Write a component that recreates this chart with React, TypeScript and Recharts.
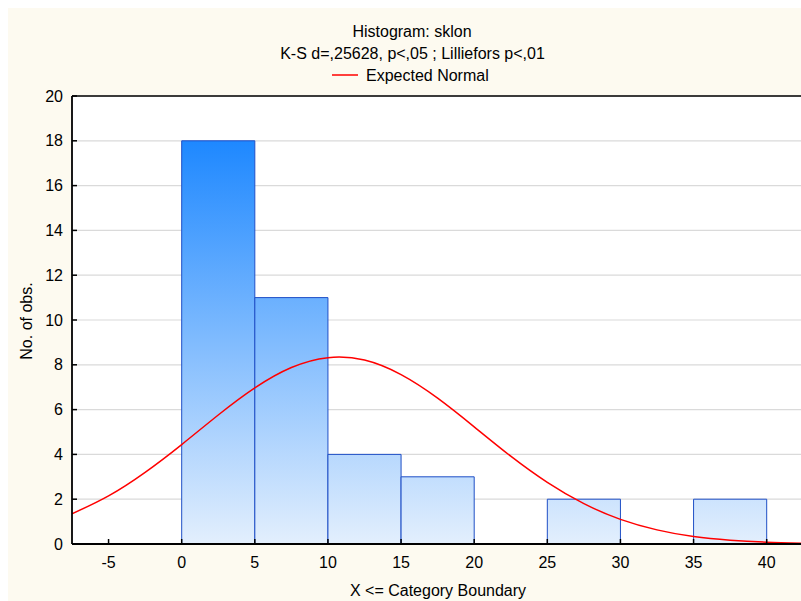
import React from 'react';
import { ComposedChart, Line, XAxis, YAxis, CartesianGrid, ReferenceArea } from 'recharts';

// Histogram bins (category boundaries) and observed counts
const binStarts = [0, 5, 10, 15, 20, 25, 30, 35];
const binEnds = [5, 10, 15, 20, 25, 30, 35, 40];
const binCounts = [18, 11, 4, 3, 0, 2, 0, 2];

// Expected normal curve
const curveX = [-7.5, -5, -2.5, 0, 2.5, 5, 7.5, 10, 12.5, 15, 17.5, 20, 22.5, 25, 27.5, 30, 32.5, 35, 37.5, 40, 42.5];
const curveY = [1.35, 2.15, 3.2, 4.44, 5.76, 6.97, 7.88, 8.32, 8.21, 7.56, 6.51, 5.23, 3.92, 2.75, 1.8, 1.1, 0.63, 0.33, 0.17, 0.08, 0.03];

const xTicks = [-5, 0, 5, 10, 15, 20, 25, 30, 35, 40];
const yTicks = [0, 2, 4, 6, 8, 10, 12, 14, 16, 18, 20];

const titleText = 'Histogram: sklon';
const subtitleText = 'K-S d=,25628, p<,05 ; Lilliefors p<,01';
const legendText = 'Expected Normal';
const xLabel = 'X <= Category Boundary';
const yLabel = 'No. of obs.';

const curveData = curveX.map((x, i) => ({ x, y: curveY[i] }));
const bins = binStarts
  .map((s, i) => ({ s, e: binEnds[i], c: binCounts[i] }))
  .filter((b) => b.c > 0);

const FONT = '"Liberation Sans", Arial, Helvetica, sans-serif';
const tickStyle = { fontSize: 16, fontFamily: FONT, fill: '#000' };

export default function App() {
  return (
    <>
      <style>{'body{margin:8px 0 0 8px;}'}</style>
      <div
        style={{
          position: 'relative',
          width: 793,
          height: 593,
          overflow: 'hidden',
          background: '#FDFAF0',
        }}
      >
        <ComposedChart
          width={800}
          height={593}
          data={curveData}
          margin={{ top: 78, right: 4.75, bottom: 27, left: 14 }}
        >
          <defs>
            <linearGradient id="barGrad" gradientUnits="userSpaceOnUse" x1="0" y1="133" x2="0" y2="536">
              <stop offset="0%" stopColor="#1E88FF" />
              <stop offset="100%" stopColor="#E3EFFD" />
            </linearGradient>
          </defs>
          <CartesianGrid vertical={false} stroke="#DADADA" strokeWidth={1.2} fill="#FFFFFF" fillOpacity={1} />
          <XAxis
            xAxisId="top"
            orientation="top"
            dataKey="x"
            type="number"
            domain={[-7.5, 42.5]}
            allowDataOverflow
            ticks={xTicks}
            height={10}
            tick={false}
            tickSize={-5}
            axisLine={{ stroke: '#000', strokeWidth: 1.5 }}
            tickLine={{ stroke: '#000', strokeWidth: 1.5 }}
          />
          <XAxis
            dataKey="x"
            type="number"
            domain={[-7.5, 42.5]}
            allowDataOverflow
            ticks={xTicks}
            height={30}
            tickSize={-5}
            tickMargin={18}
            tick={tickStyle}
            axisLine={{ stroke: '#000', strokeWidth: 1.8 }}
            tickLine={{ stroke: '#000', strokeWidth: 1.5 }}
            interval={0}
          />
          <YAxis
            type="number"
            domain={[0, 20]}
            ticks={yTicks}
            width={50}
            tickSize={-5}
            tickMargin={14}
            tick={tickStyle}
            axisLine={{ stroke: '#000', strokeWidth: 1.8 }}
            tickLine={{ stroke: '#000', strokeWidth: 1.5 }}
            interval={0}
          />
          {bins.map((b, i) => (
            <ReferenceArea
              key={i}
              x1={b.s}
              x2={b.e}
              y1={0}
              y2={b.c}
              fill="url(#barGrad)"
              fillOpacity={1}
              stroke="#1F4FC6"
              strokeWidth={1}
              ifOverflow="visible"
            />
          ))}
          <Line
            dataKey="y"
            type="natural"
            stroke="#FF0000"
            strokeWidth={1.5}
            dot={false}
            activeDot={false}
            isAnimationActive={false}
          />
        </ComposedChart>
        <svg
          width={793}
          height={593}
          style={{ position: 'absolute', left: 0, top: 0, pointerEvents: 'none' }}
        >
          <g fontFamily={FONT} fontSize={16} fill="#000">
            <text x={404} y={28.5} textAnchor="middle">{titleText}</text>
            <text x={404.5} y={50.5} textAnchor="middle">{subtitleText}</text>
            <line x1={324} y1={67} x2={350} y2={67} stroke="#FF0000" strokeWidth={1.5} />
            <text x={358} y={72.7} textAnchor="start">{legendText}</text>
            <text x={430} y={588} textAnchor="middle">{xLabel}</text>
            <text x={23.5} y={313} textAnchor="middle" transform="rotate(-90 23.5 313)">{yLabel}</text>
          </g>
        </svg>
      </div>
    </>
  );
}
